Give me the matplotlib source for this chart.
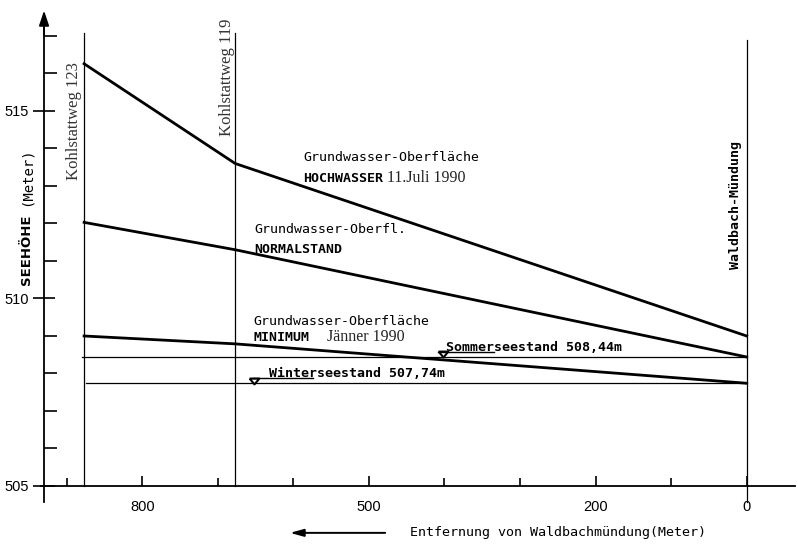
import matplotlib
matplotlib.use('Agg')
import matplotlib.pyplot as plt
from matplotlib.ticker import FixedLocator

# ---------------- data ----------------
dist_hoch = [877, 677, 0]
elev_hoch = [516.26, 513.60, 509.00]
dist_norm = [877, 677, 0]
elev_norm = [512.03, 511.30, 508.44]
dist_min = [877, 677, 0]
elev_min = [509.00, 508.79, 507.74]

sommer_level = 508.44
winter_level = 507.74
sommer_range = [880, 0]
winter_range = [875, 0]

section_dist = [877, 677, 0]
section_labels = ['Kohlstattweg 123', 'Kohlstattweg 119', 'Waldbach-Mündung']

x_major = [800, 500, 200, 0]
x_major_labels = ['800', '500', '200', '0']
x_minor = [900, 700, 600, 400, 300, 100]
y_major = [505, 510, 515]
y_major_labels = ['505', '510', '515']
y_minor = [506, 507, 508, 509, 511, 512, 513, 514, 516, 517]

MONO = 'DejaVu Sans Mono'
SERIF = 'Liberation Serif'
SANS = 'Liberation Sans'

fig = plt.figure(figsize=(7.98, 5.44), dpi=100)
fig.patch.set_facecolor('white')
ax = fig.add_axes([0, 0, 1, 1])
ax.set_facecolor('none')
ax.set_xlim(988.3, -67.9)
ax.set_ylim(503.453, 517.96)

# axes (spines placed in data coordinates)
for s in ['top', 'right']:
    ax.spines[s].set_visible(False)
ax.spines['left'].set_position(('data', 930))
ax.spines['bottom'].set_position(('data', 505))
ax.spines['left'].set_bounds(504.57, 517.2)
ax.spines['bottom'].set_bounds(934, -64)
for s in ['left', 'bottom']:
    ax.spines[s].set_linewidth(1.3)

ax.xaxis.set_major_locator(FixedLocator(x_major))
ax.set_xticklabels(x_major_labels)
ax.xaxis.set_minor_locator(FixedLocator(x_minor))
ax.yaxis.set_major_locator(FixedLocator(y_major))
ax.set_yticklabels(y_major_labels)
ax.yaxis.set_minor_locator(FixedLocator(y_minor))
ax.tick_params(axis='x', which='major', direction='in', length=7, width=1.2, pad=10, labelsize=10.5)
ax.tick_params(axis='x', which='minor', direction='in', length=6, width=1.2)
ax.tick_params(axis='y', which='major', direction='inout', length=16, width=1.2, pad=3, labelsize=10.5)
ax.tick_params(axis='y', which='minor', direction='in', length=9, width=1.2)
for lbl in ax.get_xticklabels() + ax.get_yticklabels():
    lbl.set_fontfamily(SANS)

# y axis arrow head
ax.annotate('', xy=(930, 517.68), xytext=(930, 517.0),
            arrowprops=dict(arrowstyle='-|>,head_length=0.9,head_width=0.3',
                            lw=1.3, color='black', shrinkA=0, shrinkB=0))

# section verticals
ax.plot([section_dist[0]] * 2, [505, 517.07], color='black', lw=0.9)
ax.plot([section_dist[1]] * 2, [505, 517.07], color='black', lw=0.9)
ax.plot([section_dist[2]] * 2, [504.57, 516.9], color='black', lw=0.9)

# lake levels
ax.plot(sommer_range, [sommer_level] * 2, color='black', lw=0.9)
ax.plot(winter_range, [winter_level] * 2, color='black', lw=0.9)

# groundwater surfaces
ax.plot(dist_hoch, elev_hoch, color='black', lw=2.0, solid_joinstyle='round')
ax.plot(dist_norm, elev_norm, color='black', lw=2.0, solid_joinstyle='round')
ax.plot(dist_min, elev_min, color='black', lw=2.0, solid_joinstyle='round')

# water-level triangles and underlines
tri = [(-1, 0.6), (1, 0.6), (0, -0.6), (-1, 0.6)]
ax.plot([401.6], [sommer_level + 0.067], marker=tri, ms=7, mfc='white', mec='black', mew=1.5)
ax.plot([652], [winter_level + 0.067], marker=tri, ms=7, mfc='white', mec='black', mew=1.5)
ax.plot([408.6, 334.5], [sommer_level + 0.13] * 2, color='black', lw=1.0)
ax.plot([653, 573.6], [winter_level + 0.13] * 2, color='black', lw=1.0)
ax.text(398, sommer_level + 0.17, 'Sommerseestand 508,44m', family=MONO, size=9.5,
        weight='bold', ha='left', va='baseline')
ax.text(632, winter_level + 0.17, 'Winterseestand 507,74m', family=MONO, size=9.5,
        weight='bold', ha='left', va='baseline')

# curve labels
ax.text(587.3, 513.675, 'Grundwasser-Oberfläche', family=MONO, size=9.5, ha='left', va='baseline')
ax.text(587.3, 513.107, 'HOCHWASSER', family=MONO, size=9.5, weight='bold', ha='left', va='baseline')
ax.text(476, 513.107, '11.Juli 1990', family=SERIF, size=11.5, ha='left', va='baseline',
        color='#222222')

ax.text(652, 511.74, 'Grundwasser-Oberfl.', family=MONO, size=9.5, ha='left', va='baseline')
ax.text(652, 511.22, 'NORMALSTAND', family=MONO, size=9.5, weight='bold', ha='left', va='baseline')

ax.text(653, 509.29, 'Grundwasser-Oberfläche', family=MONO, size=9.5, ha='left', va='baseline')
ax.text(653, 508.87, 'MINIMUM', family=MONO, size=9.5, weight='bold', ha='left', va='baseline')
ax.text(556, 508.87, 'Jänner 1990', family=SERIF, size=11.5, ha='left', va='baseline',
        color='#222222')

# section labels (rotated)
ax.text(890.4, 514.74, section_labels[0], family=SERIF, size=12, rotation=90,
        ha='center', va='center', color='#333333')
ax.text(687.2, 515.9, section_labels[1], family=SERIF, size=12, rotation=90,
        ha='center', va='center', color='#333333')
ax.text(14.2, 512.5, section_labels[2], family=MONO, size=9.5, weight='bold', rotation=90,
        ha='center', va='center')

# y axis title
ax.text(953.3, 513.24, '(Meter)', family=MONO, size=10, rotation=90, ha='center', va='center')
ax.text(953.3, 511.29, 'SEEHÖHE', family='DejaVu Sans', size=9.5, weight='bold', rotation=90,
        ha='center', va='center')

# x axis title with arrow
ax.annotate('', xy=(604.5, 503.75), xytext=(478.5, 503.75),
            arrowprops=dict(arrowstyle='-|>,head_length=0.8,head_width=0.22',
                            lw=1.4, color='black', shrinkA=0, shrinkB=0))
ax.text(445.6, 503.75, 'Entfernung von Waldbachmündung(Meter)', family=MONO, size=9.6,
        ha='left', va='center')

fig.savefig('out.png', dpi=100, facecolor='white')
